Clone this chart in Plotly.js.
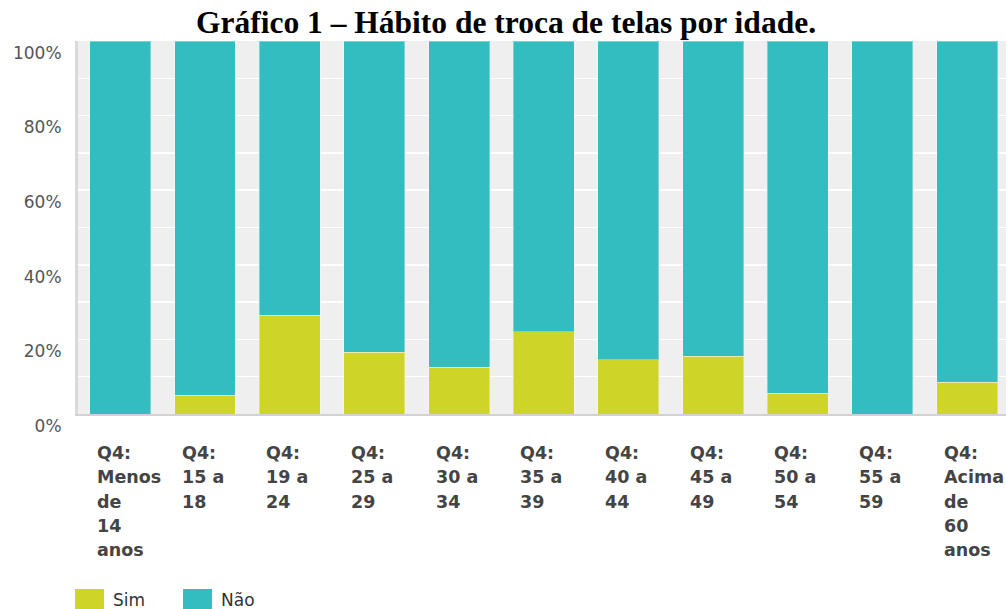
<!DOCTYPE html>
<html>
<head>
<meta charset="utf-8">
<script src="https://cdn.plot.ly/plotly-3.0.1.min.js"></script>
<style>html,body{margin:0;padding:0;background:#fff;}#chart{width:1006px;height:609px;}</style>
</head>
<body>
<div id="chart"></div>
<script>
// ---- data ----
const categories = [
  'Q4: Menos de 14 anos', 'Q4: 15 a 18', 'Q4: 19 a 24', 'Q4: 25 a 29',
  'Q4: 30 a 34', 'Q4: 35 a 39', 'Q4: 40 a 44', 'Q4: 45 a 49',
  'Q4: 50 a 54', 'Q4: 55 a 59', 'Q4: Acima de 60 anos'
];
const tickLines = [
  ['Q4:', 'Menos', 'de', '14', 'anos'],
  ['Q4:', '15 a', '18'],
  ['Q4:', '19 a', '24'],
  ['Q4:', '25 a', '29'],
  ['Q4:', '30 a', '34'],
  ['Q4:', '35 a', '39'],
  ['Q4:', '40 a', '44'],
  ['Q4:', '45 a', '49'],
  ['Q4:', '50 a', '54'],
  ['Q4:', '55 a', '59'],
  ['Q4:', 'Acima', 'de', '60', 'anos']
];
const sim = [0, 5.0, 26.5, 16.5, 12.5, 22.0, 14.5, 15.5, 5.5, 0, 8.5];
const nao = [100, 95.0, 73.5, 83.5, 87.5, 78.0, 85.5, 84.5, 94.5, 100, 91.5];
const seriesNames = ['Sim', 'Não'];
const yTickVals = [0, 20, 40, 60, 80, 100];
const yTickText = ['0%', '20%', '40%', '60%', '80%', '100%'];
const titleText = 'Gráfico 1 – Hábito de troca de telas por idade.';

// ---- style ----
const colSim = '#cfd428';
const colNao = '#33bdc0';
const W = 1006, H = 609;
const mL = 78, mR = 0, mT = 41, mB = 195;
const plotW = W - mL - mR, plotH = H - mT - mB;
const py = p => (H - mB - p) / plotH;      // pixel y -> paper y
const px = p => (p - mL) / plotW;          // pixel x -> paper x

const xIdx = categories.map((c, i) => i);

const traces = [
  {type: 'bar', name: seriesNames[0], x: xIdx, y: sim,
   marker: {color: colSim, line: {color: 'rgba(255,255,255,0.35)', width: 1}},
   showlegend: false, hoverinfo: 'skip'},
  {type: 'bar', name: seriesNames[1], x: xIdx, y: nao,
   marker: {color: colNao, line: {color: 'rgba(255,255,255,0.35)', width: 1}},
   showlegend: false, hoverinfo: 'skip'}
];

const annotations = [];
const lineStart = 453, lineStep = 24.3;
tickLines.forEach((lines, i) => {
  lines.forEach((t, j) => {
    annotations.push({
      text: t, x: i - 0.36, xref: 'x', xanchor: 'left', xshift: 5,
      y: py(lineStart + j * lineStep), yref: 'paper', yanchor: 'middle',
      showarrow: false, align: 'left',
      font: {family: 'DejaVu Sans', size: 17.5, color: '#444', weight: 'bold'}
    });
  });
});

// legend (custom swatches)
const legendItems = [
  {name: seriesNames[0], color: colSim, x0: 75},
  {name: seriesNames[1], color: colNao, x0: 183}
];
const shapes = [];
legendItems.forEach(it => {
  shapes.push({type: 'rect', xref: 'paper', yref: 'paper',
    x0: px(it.x0), x1: px(it.x0 + 29), y0: py(589), y1: py(612),
    fillcolor: it.color, line: {width: 0}});
  annotations.push({text: it.name, xref: 'paper', yref: 'paper',
    x: px(it.x0 + 36), xanchor: 'left', y: py(600), yanchor: 'middle',
    showarrow: false, font: {family: 'DejaVu Sans', size: 17, color: '#333'}});
});

const layout = {
  width: W, height: H,
  margin: {l: mL, r: mR, t: mT, b: mB, pad: 0},
  paper_bgcolor: '#ffffff', plot_bgcolor: '#efefef',
  barmode: 'stack', bargap: 0.28,
  title: {text: titleText, x: 506 / W, xanchor: 'center', xref: 'container',
          y: 1 - 22 / H, yref: 'container', yanchor: 'middle',
          font: {family: 'Liberation Serif', size: 31.5, color: '#000', weight: 'bold'}},
  xaxis: {range: [-0.5, 10.46], showticklabels: false, ticks: '', showgrid: false,
          zeroline: false, showline: true, linecolor: '#d2d2d2', linewidth: 2, fixedrange: true},
  yaxis: {range: [0, 100], tickvals: yTickVals, ticktext: yTickText, ticks: '',
          showgrid: true, gridcolor: '#ffffff', gridwidth: 1.5,
          minor: {dtick: 10, tick0: 0, showgrid: true, gridcolor: '#ffffff', gridwidth: 1.5, ticks: ''},
          zeroline: false, showline: true, linecolor: '#dadada', linewidth: 3,
          ticklabelposition: 'outside bottom', ticklabelstandoff: 10,
          tickfont: {family: 'DejaVu Sans', size: 17, color: '#555'}, fixedrange: true},
  annotations: annotations,
  shapes: shapes
};

Plotly.newPlot('chart', traces, layout, {displayModeBar: false, staticPlot: true});
</script>
</body>
</html>
